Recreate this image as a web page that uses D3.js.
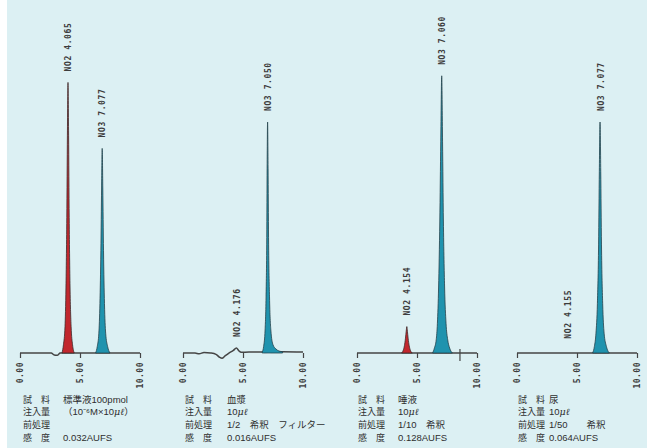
<!DOCTYPE html>
<html>
<head>
<meta charset="utf-8">
<script src="https://cdn.jsdelivr.net/npm/d3@7"></script>
<style>
  body { margin: 0; background: #ffffff; }
  svg { display: block; }
</style>
</head>
<body>
<div id="container"></div>
<script>
let w = 652;
let h = 448;

// data: time in minutes, signal in % of full scale
let timeTicks = [0, 5, 10];
let tickLabels = ["0.00", "5.00", "10.00"];

let baseline1 = [[0, 0], [2.6, 0], [2.85, -0.6], [3.1, -0.7], [3.35, 0], [10, 0]];
let baseline2 = [[0, 0], [1.0, 0], [1.35, -0.25], [1.75, 0.15], [2.3, 0], [2.75, -0.4],
                 [3.05, -1.3], [3.25, -1.6], [3.5, -0.9], [3.8, -0.1], [4.2, 0.8], [4.45, 1.5],
                 [4.65, 0.7], [4.85, 0.2], [5.5, 0.3], [6.5, 0.3], [8.3, 0.4], [10, 0.3]];
let baseline3 = [[0, 0], [10, 0]];
let baseline4 = [[0, 0], [10, 0]];

let no2Peak1 = [[3.5, 0], [3.62, 2.5], [3.75, 8], [3.83, 20], [3.9, 41], [3.95, 66], [4.0, 82],
                [4.05, 66], [4.1, 41], [4.17, 20], [4.26, 8], [4.38, 2.5], [4.52, 0]];
let no3Peak1 = [[6.3, 0], [6.44, 2], [6.57, 6], [6.66, 15], [6.74, 31], [6.8, 50], [6.85, 62],
                [6.9, 50], [6.96, 31], [7.04, 15], [7.14, 6], [7.3, 2], [7.5, 0]];
let no3Peak2 = [[6.6, 0.3], [6.72, 2], [6.84, 7], [6.92, 17], [6.98, 35], [7.01, 56], [7.05, 70],
                [7.09, 56], [7.13, 35], [7.21, 17], [7.32, 7], [7.5, 2.5], [7.75, 1.2], [8.0, 0.6], [8.3, 0.4]];
let no2Peak3 = [[3.72, 0], [3.85, 0.8], [3.95, 2.2], [4.04, 4.5], [4.1, 6.6], [4.154, 8],
                [4.2, 6.6], [4.26, 4.5], [4.35, 2.2], [4.45, 0.8], [4.6, 0]];
let no3Peak3 = [[6.3, 0], [6.45, 1.5], [6.6, 4], [6.7, 9], [6.8, 20], [6.9, 40], [6.98, 64], [7.06, 84],
                [7.13, 64], [7.2, 40], [7.3, 20], [7.42, 9], [7.56, 4], [7.72, 1.5], [7.95, 0]];
let no3Peak4 = [[6.3, 0], [6.45, 2], [6.58, 6], [6.7, 15], [6.8, 33], [6.86, 55], [6.92, 70],
                [6.98, 55], [7.04, 33], [7.14, 15], [7.26, 6], [7.45, 2], [7.7, 0]];

// peak labels: text, time, signal height of the peak top
let peakLabels1 = [["NO2 4.065", 4.0, 82], ["NO3 7.077", 6.87, 62]];
let peakLabels2 = [["NO2 4.176", 4.5, 1.5], ["NO3 7.050", 7.08, 70]];
let peakLabels3 = [["NO2 4.154", 4.154, 8], ["NO3 7.060", 7.08, 84]];
let peakLabels4 = [["NO2 4.155", 4.25, 1], ["NO3 7.077", 7.0, 70]];

let markTimes3 = [8.58];

let rowLabels = ["試　料", "注入量", "前処理", "感　度"];
let sampleNames = ["標準液100pmol", "血漿", "唾液", "尿"];
let injections = ["（10⁻⁶M×10μℓ）", "10μℓ", "10μℓ", "10μℓ"];
let pretreatments = ["", "1/2　希釈　フィルター", "1/10　希釈", "1/50　　希釈"];
let sensitivities = ["0.032AUFS", "0.016AUFS", "0.128AUFS", "0.064AUFS"];

let panels = [
  {x0: 20, baseline: baseline1, no2: no2Peak1, no3: no3Peak1, labels: peakLabels1, marks: [], textX: 23, valueX: 63},
  {x0: 183, baseline: baseline2, no2: null, no3: no3Peak2, labels: peakLabels2, marks: [], textX: 185, valueX: 227},
  {x0: 357, baseline: baseline3, no2: no2Peak3, no3: no3Peak3, labels: peakLabels3, marks: markTimes3, textX: 358, valueX: 398},
  {x0: 517, baseline: baseline4, no2: null, no3: no3Peak4, labels: peakLabels4, marks: [], textX: 518, valueX: 549}
];

let viz = d3.select("#container").append("svg")
    .attr("width", w)
    .attr("height", h)
;
viz.append("rect")
  .attr("x", 7).attr("y", 0)
  .attr("width", 640).attr("height", h)
  .attr("fill", "#dcf0f3");

let yScale = d3.scaleLinear().domain([0, 100]).range([353, 23]);
let monoFont = "'DejaVu Sans Mono', monospace";

panels.forEach(function(p, i){
  let xScale = d3.scaleLinear().domain([0, 10]).range([p.x0, p.x0 + 120]);
  let g = viz.append("g").classed("panel", true);

  let line = d3.line()
    .x(d => xScale(d[0]))
    .y(d => yScale(d[1]))
    .curve(d3.curveMonotoneX);
  let area = d3.area()
    .x(d => xScale(d[0]))
    .y0(yScale(0))
    .y1(d => yScale(d[1]))
    .curve(d3.curveMonotoneX);

  // time axis: ticks below the trace
  let xAxis = d3.axisBottom(xScale)
    .tickValues(timeTicks)
    .tickSize(5)
    .tickFormat("");
  let axisGroup = g.append("g")
    .attr("transform", "translate(0," + yScale(0) + ")")
    .call(xAxis);
  axisGroup.select(".domain").remove();
  axisGroup.selectAll("line").attr("stroke", "#444").attr("stroke-width", 1.2);

  axisGroup.selectAll(".tlabel")
    .data(timeTicks)
    .enter()
    .append("text")
    .attr("transform", d => "translate(" + xScale(d) + ",9) rotate(-90)")
    .attr("dy", "0.35em")
    .attr("text-anchor", "end")
    .attr("font-family", monoFont)
    .attr("font-weight", "bold")
    .attr("font-size", 8)
    .attr("letter-spacing", 0.5)
    .attr("fill", "#3c3c3c")
    .text((d, k) => tickLabels[k]);

  // extra event marks on the trace
  g.selectAll(".mark")
    .data(p.marks)
    .enter()
    .append("line")
    .attr("x1", d => xScale(d)).attr("x2", d => xScale(d))
    .attr("y1", yScale(0) - 4).attr("y2", yScale(0) + 8)
    .attr("stroke", "#444").attr("stroke-width", 1.2);

  // baseline trace
  g.append("path")
    .datum(p.baseline)
    .attr("d", line)
    .attr("fill", "none")
    .attr("stroke", "#454545")
    .attr("stroke-width", 1.5);

  // peaks
  if (p.no2) {
    g.append("path")
      .datum(p.no2)
      .attr("d", area)
      .attr("fill", "#c1272d")
      .attr("stroke", "#3b2a2a")
      .attr("stroke-width", 0.8);
  }
  g.append("path")
    .datum(p.no3)
    .attr("d", area)
    .attr("fill", "#1f93ae")
    .attr("stroke", "#25414a")
    .attr("stroke-width", 0.8);

  // peak labels
  g.selectAll(".plabel")
    .data(p.labels)
    .enter()
    .append("text")
    .attr("transform", d => "translate(" + xScale(d[1]) + "," + (yScale(d[2]) - 11) + ") rotate(-90)")
    .attr("dy", "0.35em")
    .attr("text-anchor", "start")
    .attr("font-family", monoFont)
    .attr("font-weight", "bold")
    .attr("font-size", 8)
    .attr("letter-spacing", 0.6)
    .attr("fill", "#3c3c3c")
    .text(d => d[0]);

  // sample description below
  let values = [sampleNames[i], injections[i], pretreatments[i], sensitivities[i]];
  let rowY = [402.5, 415, 428, 441];
  rowLabels.forEach(function(lab, r){
    g.append("text")
      .attr("x", p.textX).attr("y", rowY[r])
      .attr("font-family", "'Noto Sans CJK JP', sans-serif")
      .attr("font-size", 9)
      .attr("fill", "#2e2e2e")
      .text(lab);
    let t = g.append("text")
      .attr("x", p.valueX).attr("y", rowY[r])
      .attr("font-family", "'Liberation Sans', 'Noto Sans CJK JP', sans-serif")
      .attr("font-size", 9.5)
      .attr("fill", "#2e2e2e");
    let parts = values[r].split("μℓ");
    parts.forEach(function(part, k){
      t.append("tspan").text(part);
      if (k < parts.length - 1) {
        t.append("tspan").attr("font-style", "italic").attr("font-family", "'DejaVu Serif', serif").text("μℓ");
      }
    });
  });
});
</script>
</body>
</html>
